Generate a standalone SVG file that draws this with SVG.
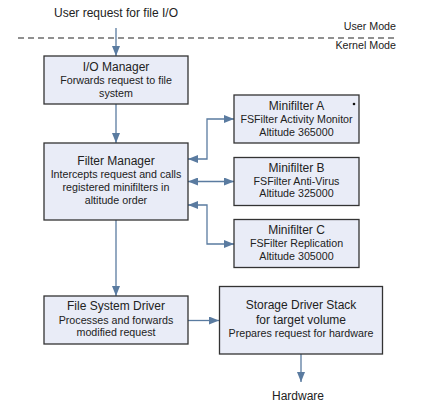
<svg xmlns="http://www.w3.org/2000/svg" width="422" height="416" viewBox="0 0 422 416">
<style>
.box{fill:#E9ECF7;stroke:#333;stroke-width:1.3}
.t{font-family:"Liberation Sans",Arial,sans-serif;fill:#222;text-anchor:middle}
.h{font-size:12px}
.b{font-size:10.7px}
.c{fill:none;stroke:#5A7BA0;stroke-width:1.3}
</style>
<defs>
<marker id="ah" viewBox="0 0 10 8" refX="10" refY="4" markerWidth="10" markerHeight="8" markerUnits="userSpaceOnUse" orient="auto-start-reverse">
<path d="M0,0 L10,4 L0,8 z" fill="#5A7BA0"/>
</marker>
</defs>
<rect width="422" height="416" fill="#fff"/>
<text class="t h" x="116" y="17">User request for file I/O</text>
<text class="t b" x="396" y="30" style="text-anchor:end">User Mode</text>
<line x1="18" y1="38" x2="397" y2="38" stroke="#222" stroke-width="1.2" stroke-dasharray="6,4"/>
<text class="t b" x="396" y="49" style="text-anchor:end">Kernel Mode</text>
<g id="connectors">
<path class="c" d="M116,28 V56" marker-end="url(#ah)"/>
<path class="c" d="M116,104 V143" marker-end="url(#ah)"/>
<path class="c" d="M188,159 H207 V119 H234" marker-start="url(#ah)" marker-end="url(#ah)"/>
<path class="c" d="M188,181.5 H234" marker-start="url(#ah)" marker-end="url(#ah)"/>
<path class="c" d="M188,205 H207 V244 H234" marker-start="url(#ah)" marker-end="url(#ah)"/>
<path class="c" d="M116,220 V296" marker-end="url(#ah)"/>
<path class="c" d="M188,320.5 H219" marker-end="url(#ah)"/>
<path class="c" d="M301,354 V382" marker-end="url(#ah)"/>
</g>
<g id="io-manager">
<rect class="box" x="44" y="56" width="144" height="48"/>
<text class="t h" x="116" y="71">I/O Manager</text>
<text class="t b" x="116" y="84">Forwards request to file</text>
<text class="t b" x="116" y="97">system</text>
</g>
<g id="filter-manager">
<rect class="box" x="44" y="143" width="144" height="77"/>
<text class="t h" x="116" y="165">Filter Manager</text>
<text class="t b" x="116" y="178">Intercepts request and calls</text>
<text class="t b" x="116" y="191">registered minifilters in</text>
<text class="t b" x="116" y="203.5">altitude order</text>
</g>
<g id="minifilter-a">
<rect class="box" x="234" y="95" width="125" height="48"/>
<text class="t h" x="296.5" y="110">Minifilter A</text>
<text class="t b" x="296.5" y="123">FSFilter Activity Monitor</text>
<text class="t b" x="296.5" y="135.5">Altitude 365000</text>
<circle cx="354" cy="104" r="1.3" fill="#111"/>
</g>
<g id="minifilter-b">
<rect class="box" x="234" y="157.5" width="125" height="48"/>
<text class="t h" x="296.5" y="172">Minifilter B</text>
<text class="t b" x="296.5" y="184.5">FSFilter Anti-Virus</text>
<text class="t b" x="296.5" y="197">Altitude 325000</text>
</g>
<g id="minifilter-c">
<rect class="box" x="234" y="219.5" width="125" height="48"/>
<text class="t h" x="296.5" y="233.5">Minifilter C</text>
<text class="t b" x="296.5" y="247">FSFilter Replication</text>
<text class="t b" x="296.5" y="259.5">Altitude 305000</text>
</g>
<g id="file-system-driver">
<rect class="box" x="44" y="296" width="144" height="48"/>
<text class="t h" x="116" y="309.5">File System Driver</text>
<text class="t b" x="116" y="323.5">Processes and forwards</text>
<text class="t b" x="116" y="336">modified request</text>
</g>
<g id="storage-driver-stack">
<rect class="box" x="219.5" y="286.5" width="163" height="67.5"/>
<text class="t h" x="301" y="308.5">Storage Driver Stack</text>
<text class="t h" x="301" y="323.5">for target volume</text>
<text class="t b" x="301" y="337">Prepares request for hardware</text>
</g>
<text class="t h" x="298" y="400">Hardware</text>
</svg>
